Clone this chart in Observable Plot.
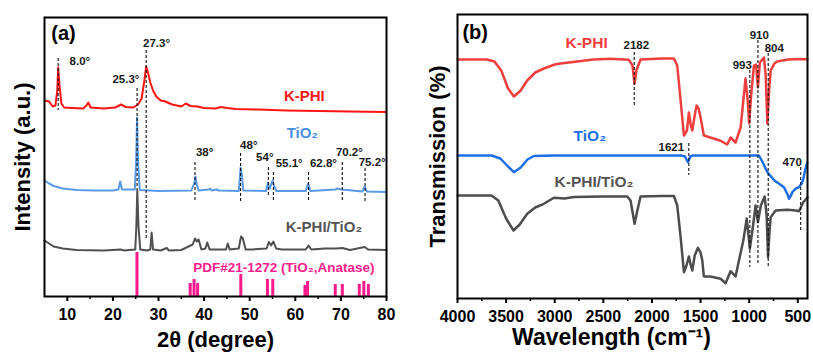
<!DOCTYPE html>
<html><head><meta charset="utf-8">
<script src="https://cdn.jsdelivr.net/npm/d3@7"></script>
<script src="https://cdn.jsdelivr.net/npm/@observablehq/plot@0.6"></script>
<style>
body{margin:0;background:#fff;}
#wrap{position:relative;width:813px;height:354px;overflow:hidden;background:#fff;}
#wrap svg{position:absolute;top:0;}
</style></head><body><div id="wrap"></div>
<script>
// ---------- Panel (a): XRD ----------
const xrdTicks = [10, 20, 30, 40, 50, 60, 70, 80];
const xrdMinor = [15, 25, 35, 45, 55, 65, 75];
const xrdKPHI = [[5,196],[6,195],[6.8,190],[7.4,191],[7.8,206],[8.0,229],[8.3,211],[8.7,193],[9.3,189],[11,188.5],[13.5,188],[14.2,191],[14.6,194],[15.1,189],[18,188],[20.5,189],[21.8,192],[22.8,189.5],[24.5,189],[25.5,192],[26.3,198],[26.9,216],[27.3,230],[27.7,224],[28.2,214],[28.8,206],[29.5,200],[30.5,196],[31.5,195],[33,192],[35,190],[36,193],[37,190.5],[38.5,190],[40,188.5],[42.5,188],[43.7,189.5],[45,188.5],[47,187.5],[52,187],[58,186],[65,185.5],[72,185],[80,184.5]];
const xrdTiO2 = [[5,116],[6,113],[7,110.5],[9,108],[12,106.5],[16,106],[20,106],[21.2,107],[21.6,115],[22.0,107],[24.8,107],[25.1,136],[25.3,179],[25.5,136],[25.9,106.5],[30,105.5],[37.2,106],[37.9,114],[38.1,120],[38.4,112],[38.8,106],[41,107],[41.3,108],[41.6,106],[42.8,107],[43.2,106],[47.6,105.5],[48.0,129],[48.3,121],[48.6,106],[53.6,105.5],[54.0,114],[54.4,108],[55.0,116],[55.4,110],[55.9,105.5],[62.3,105.5],[62.8,113],[63.3,105.5],[68.8,107],[69.2,108],[70.2,107],[74.7,105],[75.2,110],[75.7,105],[80,104.5]];
const xrdComposite = [[5,56],[6,53],[7,50],[9,48],[12,46.5],[18,46],[21.7,47],[22.5,46],[24.9,47],[25.15,71],[25.35,106],[25.6,71],[26.0,47],[27.5,46],[28.2,47],[28.5,64],[28.8,47],[30.5,46],[31.8,48.5],[32.3,46],[35,46.5],[37.5,52],[38.0,58],[38.4,55],[38.8,57],[39.4,47],[40.3,48],[40.7,54],[41.2,47],[44.8,47],[45.2,53],[45.6,47],[47.6,48],[48.1,60],[48.5,58],[49.1,47],[50.5,47],[53.7,48],[54.2,54.5],[54.7,51],[55.2,55],[55.8,48],[57,47],[62.3,47],[62.9,51],[63.5,47],[66.5,48],[69,48],[70.3,48.5],[72,46.5],[75.2,49.5],[76,47],[80,46.5]];
const pdfPos = [25.28, 36.95, 37.80, 38.58, 48.05, 53.89, 55.06, 62.12, 62.69, 68.76, 70.31, 74.03, 75.03, 76.02];
const pdfHeight = [44, 13, 17, 13, 22, 17, 17, 11, 15, 12, 12, 12, 15, 12];
const xrdDashPos = [8.0, 27.3, 25.3, 38, 48, 54.1, 55.2, 62.9, 70.3, 75.3];
const xrdDashTop = [238, 246, 208, 134, 143, 129, 124, 124, 134, 128];
const xrdDashBottom = [186, 56, 106, 94, 94, 100, 94, 94, 94, 94];
const xrdPeakText = ["8.0°", "27.3°", "25.3°", "38°", "48°", "54°", "55.1°", "62.8°", "70.2°", "75.2°"];
const xrdPeakTextX = [10.5, 26.6, 19.9, 38.2, 47.9, 51.4, 55.7, 63.2, 68.9, 73.9];
const xrdPeakTextY = [235, 253, 217, 144, 151, 139, 133, 133, 144, 134];

// ---------- Panel (b): FTIR ----------
const irTicks = [4000, 3500, 3000, 2500, 2000, 1500, 1000, 500];
const irMinor = [3750, 3250, 2750, 2250, 1750, 1250, 750];
const irKPHI = [[4000,239],[3700,239],[3620,237],[3550,228],[3480,210],[3420,202],[3350,208],[3283,218],[3200,226],[3112,230],[3000,234],[2940,235],[2768,237],[2600,239],[2426,239.7],[2237,238.7],[2200,233],[2179,215],[2160,228],[2117,239],[1900,240],[1774,240],[1740,233],[1705,198],[1671,163],[1640,168],[1620,186],[1600,173],[1585,168],[1560,183],[1541,193],[1520,190],[1500,181],[1466,163],[1400,161],[1300,158],[1226,154],[1191,161],[1140,156],[1088,171],[1060,198],[1037,220],[1015,198],[1000,175],[980,203],[951,233],[930,234],[910,211],[890,236],[848,241],[830,223],[813,175],[795,208],[779,228],[740,235],[711,237],[600,239],[500,239.5],[400,239.3]];
const irTiO2 = [[4000,143],[3650,143],[3560,140],[3480,132],[3420,126.3],[3350,131],[3280,139],[3215,142.5],[3000,143],[2000,143],[1700,143],[1660,142],[1630,136.3],[1605,142],[1580,143],[1000,143],[900,143],[860,136],[813,126.3],[740,118],[642,111.3],[600,103],[591,99.7],[570,103],[556,106.3],[520,110],[488,111.3],[460,115],[443,119.7],[420,130],[402,136]];
const irComposite = [[4000,103],[3650,103],[3580,98],[3500,80],[3424,68],[3360,74],[3283,84.7],[3200,91],[3112,94.7],[3009,100.7],[2900,100],[2800,101.5],[2500,102],[2254,102],[2220,98],[2179,74.7],[2150,88],[2117,102],[1900,102.5],[1774,102.5],[1740,93],[1705,61.3],[1671,26.3],[1645,33],[1620,42],[1600,33],[1585,28],[1560,43],[1527,50.7],[1500,46],[1482,38],[1466,22],[1400,22],[1294,19.7],[1243,15.3],[1191,27.3],[1140,22],[1105,38],[1060,58],[1025,80],[993,49.7],[960,73],[934,93],[910,76.3],[880,93],[841,102],[820,83],[806,41.3],[790,68],[779,81.3],[728,88],[607,88.7],[520,88],[488,87.3],[443,96.3],[400,101]];
const irDashPos = [2182, 1621, 993, 910, 804, 470];
const irDashTop = [246, 155, 228, 258, 245, 131];
const irDashBottom = [191, 123, 31, 33, 31, 68];
const irPeakText = ["2182", "1621", "993", "910", "804", "470"];
const irPeakTextX = [2292, 1932, 1170, 995, 841, 656];
const irPeakTextY = [253, 151, 233, 263, 250, 136];

const FONT = 'Arial, "Liberation Sans", Helvetica, sans-serif';
const zip3 = (a, b, c) => a.map((v, i) => ({p: v, a: b[i], b: c[i]}));
const plain = d => String(d);

const A = Plot.plot({
  width: 403, height: 354,
  marginLeft: 44, marginRight: 17, marginTop: 17, marginBottom: 58,
  style: {fontFamily: FONT, background: "transparent", overflow: "visible"},
  x: {domain: [5, 80], axis: null},
  y: {domain: [0, 279], axis: null},
  marks: [
    Plot.ruleX(pdfPos.map((p, i) => ({p, h: pdfHeight[i]})), {x: "p", y1: 0, y2: "h", stroke: "#ff1a8c", strokeWidth: 3}),
    Plot.line(xrdComposite, {x: d => d[0], y: d => d[1], stroke: "#505050", strokeWidth: 2}),
    Plot.line(xrdTiO2, {x: d => d[0], y: d => d[1], stroke: "#5a9ae6", strokeWidth: 2}),
    Plot.line(xrdKPHI, {x: d => d[0], y: d => d[1], stroke: "#ff1414", strokeWidth: 2}),
    Plot.ruleX(zip3(xrdDashPos, xrdDashTop, xrdDashBottom), {x: "p", y1: "a", y2: "b", stroke: "#111", strokeWidth: 1.1, strokeDasharray: "3,2"}),
    Plot.text(zip3(xrdPeakText, xrdPeakTextX, xrdPeakTextY), {x: "a", y: "b", text: "p", textAnchor: "start", fontSize: 11.5, fontWeight: "bold", fill: "#1a1a1a"}),
    Plot.text(["K-PHI"], {x: 57.5, y: 200, text: d => d, textAnchor: "start", fontSize: 15, fontWeight: "bold", fill: "#ff1414"}),
    Plot.text(["TiO₂"], {x: 58.1, y: 163, text: d => d, textAnchor: "start", fontSize: 15, fontWeight: "bold", fill: "#4a8fe6"}),
    Plot.text(["K-PHI/TiO₂"], {x: 57.9, y: 69, text: d => d, textAnchor: "start", fontSize: 15, fontWeight: "bold", fill: "#555"}),
    Plot.text(["PDF#21-1272 (TiO₂,Anatase)"], {x: 37.6, y: 29, text: d => d, textAnchor: "start", fontSize: 13.5, fontWeight: "bold", fill: "#ff1a8c"}),
    Plot.text(["(a)"], {x: 6.5, y: 263, text: d => d, textAnchor: "start", fontSize: 20, fontWeight: "bold", fill: "#000"}),
    Plot.frame({stroke: "#000", strokeWidth: 2}),
    Plot.axisX({ticks: xrdTicks, tickSize: 5, tickPadding: 7, tickFormat: plain, fontSize: 16, fontWeight: "bold", strokeWidth: 2, label: null}),
    Plot.axisX({ticks: xrdMinor, tickSize: 3, tickFormat: () => "", strokeWidth: 1.5, label: null}),
    Plot.text(["2θ (degree)"], {frameAnchor: "bottom", dy: 43, lineAnchor: "middle", textAnchor: "middle", text: d => d, fontSize: 22, fontWeight: "bold", fill: "#000"}),
    Plot.text(["Intensity (a.u.)"], {frameAnchor: "left", dx: -22, rotate: -90, textAnchor: "middle", lineAnchor: "middle", text: d => d, fontSize: 22, fontWeight: "bold", fill: "#000"})
  ]
});
A.style.left = "0px";

const B = Plot.plot({
  width: 410, height: 354,
  marginLeft: 54, marginRight: 6, marginTop: 14, marginBottom: 56,
  style: {fontFamily: FONT, background: "transparent", overflow: "visible"},
  x: {domain: [4000, 400], axis: null},
  y: {domain: [0, 284], axis: null},
  marks: [
    Plot.line(irComposite, {x: d => d[0], y: d => d[1], stroke: "#4d4d4d", strokeWidth: 2.5}),
    Plot.line(irTiO2, {x: d => d[0], y: d => d[1], stroke: "#1c6fe8", strokeWidth: 2.5}),
    Plot.line(irKPHI, {x: d => d[0], y: d => d[1], stroke: "#ef3e3e", strokeWidth: 2.5}),
    Plot.ruleX(zip3(irDashPos, irDashTop, irDashBottom), {x: "p", y1: "a", y2: "b", stroke: "#111", strokeWidth: 1.1, strokeDasharray: "3,2"}),
    Plot.text(zip3(irPeakText, irPeakTextX, irPeakTextY), {x: "a", y: "b", text: "p", textAnchor: "start", fontSize: 11.5, fontWeight: "bold", fill: "#1a1a1a"}),
    Plot.text(["K-PHI"], {x: 2889, y: 255, text: d => d, textAnchor: "start", fontSize: 15.5, fontWeight: "bold", fill: "#ef3e3e"}),
    Plot.text(["TiO₂"], {x: 2806, y: 162, text: d => d, textAnchor: "start", fontSize: 15.5, fontWeight: "bold", fill: "#1c6fe8"}),
    Plot.text(["K-PHI/TiO₂"], {x: 3002, y: 116, text: d => d, textAnchor: "start", fontSize: 15.5, fontWeight: "bold", fill: "#555"}),
    Plot.text(["(b)"], {x: 3949, y: 266, text: d => d, textAnchor: "start", fontSize: 20, fontWeight: "bold", fill: "#000"}),
    Plot.frame({stroke: "#000", strokeWidth: 2}),
    Plot.axisX({ticks: irTicks, tickSize: 5, tickPadding: 7, tickFormat: plain, fontSize: 16, fontWeight: "bold", strokeWidth: 2, label: null}),
    Plot.axisX({ticks: irMinor, tickSize: 3, tickFormat: () => "", strokeWidth: 1.5, label: null}),
    Plot.text(["Wavelength (cm⁻¹)"], {frameAnchor: "bottom", dx: -21, dy: 39, lineAnchor: "middle", textAnchor: "middle", text: d => d, fontSize: 23, fontWeight: "bold", fill: "#000"}),
    Plot.text(["Transmission (%)"], {frameAnchor: "left", dx: -20, rotate: -90, textAnchor: "middle", lineAnchor: "middle", text: d => d, fontSize: 22, fontWeight: "bold", fill: "#000"})
  ]
});
B.style.left = "403px";

const wrap = document.getElementById("wrap");
wrap.appendChild(A);
wrap.appendChild(B);
</script></body></html>
